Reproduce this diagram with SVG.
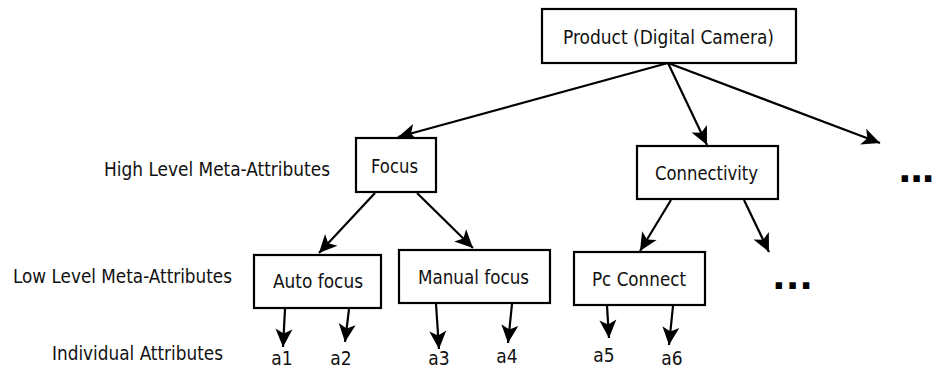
<svg xmlns="http://www.w3.org/2000/svg" width="935" height="368" viewBox="0 0 935 368">
  <style>
    text { font-family: "DejaVu Sans Condensed", "DejaVu Sans", sans-serif; font-size: 19px; fill: #111111; }
    .box { fill: #ffffff; stroke: #000000; stroke-width: 2.2; }
    .edge { fill: none; stroke: #000000; stroke-width: 2.2; }
    .dots { font-family: "DejaVu Sans", sans-serif; font-weight: bold; font-size: 36px; fill: #000000; }
  </style>
  <defs>
    <marker id="arrow" viewBox="-19 -10 20 20" refX="0" refY="0" markerWidth="20" markerHeight="20" markerUnits="userSpaceOnUse" orient="auto">
      <path d="M0,0 L-18,-8.5 L-13.5,0 L-18,8.5 Z" fill="#000000"/>
    </marker>
  </defs>
  <rect width="935" height="368" fill="#ffffff"/>

  <!-- level captions -->
  <g id="captions">
    <text x="104" y="176" textLength="226" lengthAdjust="spacingAndGlyphs">High Level Meta-Attributes</text>
    <text x="13" y="283" textLength="219" lengthAdjust="spacingAndGlyphs">Low Level Meta-Attributes</text>
    <text x="52" y="360" textLength="171" lengthAdjust="spacingAndGlyphs">Individual Attributes</text>
  </g>

  <!-- connectors -->
  <g id="connectors" class="edge" marker-end="url(#arrow)">
    <line x1="668" y1="63" x2="398" y2="137"/>
    <line x1="668" y1="63" x2="707" y2="145"/>
    <line x1="668" y1="63" x2="880" y2="143"/>
    <line x1="375" y1="193" x2="319" y2="253"/>
    <line x1="417" y1="193" x2="473" y2="248"/>
    <line x1="671" y1="200" x2="640" y2="251"/>
    <line x1="744" y1="200" x2="769" y2="252"/>
    <line x1="285" y1="309" x2="283" y2="347"/>
    <line x1="349" y1="309" x2="345" y2="342"/>
    <line x1="436" y1="304" x2="439" y2="349"/>
    <line x1="512" y1="304" x2="508" y2="343"/>
    <line x1="607" y1="306" x2="609" y2="338"/>
    <line x1="673" y1="306" x2="669" y2="345"/>
  </g>

  <!-- nodes -->
  <g id="product">
    <rect class="box" x="542" y="9" width="254" height="54"/>
    <text x="563" y="44" textLength="211" lengthAdjust="spacingAndGlyphs">Product (Digital Camera)</text>
  </g>
  <g id="focus">
    <rect class="box" x="356" y="138" width="80" height="54"/>
    <text x="371" y="173" textLength="47" lengthAdjust="spacingAndGlyphs">Focus</text>
  </g>
  <g id="connectivity">
    <rect class="box" x="637" y="146" width="141" height="53"/>
    <text x="655" y="180" textLength="103" lengthAdjust="spacingAndGlyphs">Connectivity</text>
  </g>
  <g id="auto-focus">
    <rect class="box" x="254" y="255" width="127" height="53"/>
    <text x="273" y="288" textLength="90" lengthAdjust="spacingAndGlyphs">Auto focus</text>
  </g>
  <g id="manual-focus">
    <rect class="box" x="399" y="250" width="151" height="53"/>
    <text x="418" y="284" textLength="111" lengthAdjust="spacingAndGlyphs">Manual focus</text>
  </g>
  <g id="pc-connect">
    <rect class="box" x="574" y="252" width="131" height="53"/>
    <text x="592" y="286" textLength="94" lengthAdjust="spacingAndGlyphs">Pc Connect</text>
  </g>

  <!-- individual attributes -->
  <g id="a1"><text x="282" y="365" text-anchor="middle">a1</text></g>
  <g id="a2"><text x="341" y="365" text-anchor="middle">a2</text></g>
  <g id="a3"><text x="439" y="365" text-anchor="middle">a3</text></g>
  <g id="a4"><text x="507" y="363" text-anchor="middle">a4</text></g>
  <g id="a5"><text x="604" y="362" text-anchor="middle">a5</text></g>
  <g id="a6"><text x="672" y="365" text-anchor="middle">a6</text></g>

  <!-- continuation marks -->
  <g id="more-high"><text class="dots" x="898" y="182" letter-spacing="-2">...</text></g>
  <g id="more-low"><text class="dots" x="772" y="289">...</text></g>
</svg>
